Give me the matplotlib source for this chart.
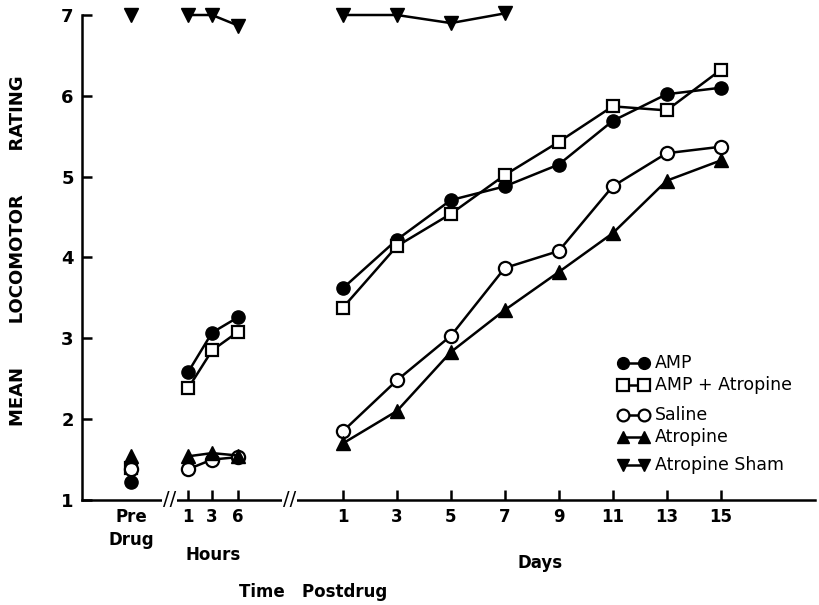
import matplotlib.pyplot as plt

plt.rcParams['font.family'] = ['DejaVu Sans']
plt.rcParams['font.weight'] = 'bold'

# ratings: pre-drug, hours postdrug (1, 3, 6), days postdrug (1..15, odd days)
hours = [1, 3, 6]
days = [1, 3, 5, 7, 9, 11, 13, 15]

amp_pre = 1.22
amp_hours = [2.58, 3.07, 3.26]
amp_days = [3.62, 4.22, 4.71, 4.88, 5.15, 5.69, 6.02, 6.10]

ampatr_pre = 1.40
ampatr_hours = [2.38, 2.85, 3.08]
ampatr_days = [3.38, 4.14, 4.54, 5.02, 5.43, 5.87, 5.82, 6.32]

saline_pre = 1.38
saline_hours = [1.38, 1.50, 1.53]
saline_days = [1.85, 2.48, 3.03, 3.87, 4.08, 4.88, 5.29, 5.37]

atr_pre = 1.55
atr_hours = [1.54, 1.58, 1.55]
atr_days = [1.70, 2.10, 2.83, 3.35, 3.82, 4.30, 4.95, 5.20]

sham_pre = 7.0
sham_hours = [7.0, 7.0, 6.87]
sham_days = [7.0, 7.0, 6.90, 7.02]

labels = ['AMP', 'AMP + Atropine', 'Saline', 'Atropine', 'Atropine Sham']

# x layout: days sit on their own value, hours and pre-drug are placed to the left
pre_x = -6.85
hour_x = {1: -4.74, 3: -3.85, 6: -2.89}
breaks_x = [-5.42, -0.97]

fig = plt.figure(figsize=(8.2, 6.05), dpi=100)
ax = fig.add_axes([0.1, 0.1736, 0.894, 0.8016])

kw = dict(color='black', lw=1.8, clip_on=False, zorder=3)
series = [
    (amp_pre, amp_hours, amp_days, dict(marker='o', mfc='black', ms=9.5)),
    (ampatr_pre, ampatr_hours, ampatr_days, dict(marker='s', mfc='white', ms=9, mew=1.6)),
    (saline_pre, saline_hours, saline_days, dict(marker='o', mfc='white', ms=9.5, mew=1.6)),
    (atr_pre, atr_hours, atr_days, dict(marker='^', mfc='black', ms=10)),
    (sham_pre, sham_hours, sham_days, dict(marker='v', mfc='black', ms=10)),
]
for pre, hv, dv, mk in series:
    ax.plot([pre_x], [pre], mec='black', **mk, **kw)
    ax.plot([hour_x[h] for h in hours], hv, mec='black', **mk, **kw)
    ax.plot(days[:len(dv)], dv, mec='black', **mk, **kw)

ax.set_xlim(-8.67, 18.5)
ax.set_ylim(1, 7)
ax.spines['top'].set_visible(False)
ax.spines['right'].set_visible(False)
for s in ('left', 'bottom'):
    ax.spines[s].set_linewidth(1.8)

ax.set_yticks(range(1, 8))
ax.set_yticklabels([str(v) for v in range(1, 8)], fontsize=13)
xt = [pre_x] + [hour_x[h] for h in hours] + days
xl = ['Pre\nDrug'] + [str(h) for h in hours] + [str(d) for d in days]
ax.set_xticks(xt)
ax.set_xticklabels(xl, fontsize=12, linespacing=1.3, va='top')
ax.tick_params(direction='in', length=7, width=1.8, pad=6)
ax.get_xaxis().majorTicks[0].tick1line.set_visible(False)

# axis breaks
for bx in breaks_x:
    ax.text(bx, 1, '//', ha='center', va='center', fontsize=14, fontweight='normal',
            clip_on=False, zorder=5,
            bbox=dict(boxstyle='square,pad=0.05', fc='white', ec='none'))

ax.text(-3.8, 0.32, 'Hours', ha='center', va='center', fontsize=12)
ax.text(8.3, 0.22, 'Days', ha='center', va='center', fontsize=12)
fig.text(0.382, 0.022, 'Time   Postdrug', ha='center', va='center', fontsize=12)
fig.text(0.022, 0.585, 'MEAN       LOCOMOTOR       RATING', rotation=90,
         ha='center', va='center', fontsize=13)

# legend: two markers joined by a short line, drawn in axes coordinates
leg_y = [0.282, 0.237, 0.175, 0.130, 0.072]
for (_, _, _, mk), lab, ly in zip(series, labels, leg_y):
    m = dict(mk)
    m['ms'] = 8.5 if m['marker'] != 's' else 8
    ax.plot([0.738, 0.766], [ly, ly], transform=ax.transAxes, color='black', lw=1.8,
            mec='black', clip_on=False, **m)
    ax.text(0.781, ly, lab, transform=ax.transAxes, ha='left', va='center',
            fontsize=12.5, fontweight='normal')

fig.savefig('out.png', dpi=100)
